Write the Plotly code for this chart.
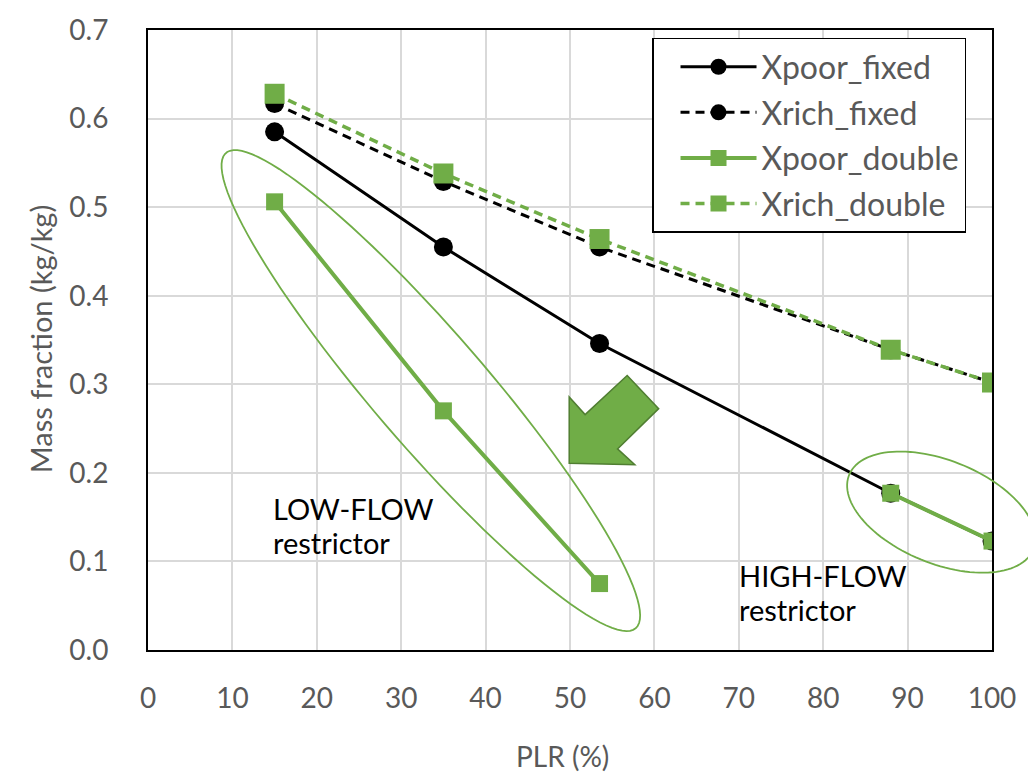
import plotly.graph_objects as go
import numpy as np

# ---- data ----
plr = [15, 35, 53.5, 88, 100]
xpoor_fixed = [0.585, 0.455, 0.346, 0.177, 0.123]
xrich_fixed = [0.617, 0.529, 0.455, 0.339, 0.302]
xpoor_double = [0.506, 0.270, 0.075, 0.177, 0.123]
xrich_double = [0.628, 0.538, 0.464, 0.339, 0.302]
series_names = ["Xpoor_fixed", "Xrich_fixed", "Xpoor_double", "Xrich_double"]
x_ticks = list(range(0, 101, 10))
y_ticks = [round(0.1 * i, 1) for i in range(8)]

W, H = 1028, 773
L, R, T, B = 148, 31, 25, 123
PW, PH = W - L - R, H - T - B

def px(x):
    return (x - L) / PW

def py(y):
    return (H - B - y) / PH

GREEN = "#70AD47"
GREY = "#595959"
FONT = "Lato"
FS = 28

fig = go.Figure()

# Xpoor_double has no segment between low-flow and high-flow groups
gap_x = plr[:3] + [None] + plr[3:]
gap_y = xpoor_double[:3] + [None] + xpoor_double[3:]

fig.add_trace(go.Scatter(x=plr, y=xpoor_fixed, name=series_names[0], mode="lines+markers",
                         line=dict(color="black", width=3),
                         marker=dict(symbol="circle", size=19, color="black"),
                         legendgroup="a"))
fig.add_trace(go.Scatter(x=plr, y=xrich_fixed, name=series_names[1], mode="lines+markers",
                         line=dict(color="black", width=3, dash="9px,6px"),
                         marker=dict(symbol="circle", size=19, color="black"),
                         legendgroup="b"))
fig.add_trace(go.Scatter(x=gap_x, y=gap_y, name=series_names[2], mode="lines+markers",
                         line=dict(color=GREEN, width=4),
                         marker=dict(symbol="square", size=17, color=GREEN),
                         connectgaps=False, legendgroup="c"))
fig.add_trace(go.Scatter(x=plr, y=xrich_double, name=series_names[3], mode="lines+markers",
                         line=dict(color=GREEN, width=3.5, dash="9px,6px"),
                         marker=dict(symbol="square", size=20, color=GREEN),
                         legendgroup="d"))

shapes = []

def ellipse_path(cx, cy, a, b, ang_deg, n=120):
    t = np.linspace(0, 2 * np.pi, n)
    th = np.deg2rad(ang_deg)
    xs = cx + a * np.cos(t) * np.cos(th) - b * np.sin(t) * np.sin(th)
    ys = cy + a * np.cos(t) * np.sin(th) + b * np.sin(t) * np.cos(th)
    pts = [f"{px(x):.5f},{py(y):.5f}" for x, y in zip(xs, ys)]
    return "M " + " L ".join(pts) + " Z"

shapes.append(dict(type="path", xref="paper", yref="paper",
                   path=ellipse_path(432.5, 388.5, 316, 57, 49.3),
                   line=dict(color=GREEN, width=1.8), layer="above"))
shapes.append(dict(type="path", xref="paper", yref="paper",
                   path=ellipse_path(946, 511, 100, 52, 22),
                   line=dict(color=GREEN, width=1.8), layer="above"))

arrow = [(630, 373.3), (661.7, 406.7), (620.3, 447.3), (637.7, 463.3),
         (571.7, 461.7), (571.7, 395), (587.7, 412.7)]
apath = "M " + " L ".join(f"{px(x):.5f},{py(y):.5f}" for x, y in arrow) + " Z"
shapes.append(dict(type="path", xref="paper", yref="paper", path=apath,
                   fillcolor=GREEN, line=dict(color="#507E32", width=1.5), layer="above"))

annotations = []
def txt(s, x, y, size=FS, color="black", xanchor="left", textangle=0):
    annotations.append(dict(text=s, xref="paper", yref="paper", x=px(x), y=py(y),
                            xanchor=xanchor, yanchor="middle", showarrow=False,
                            textangle=textangle,
                            font=dict(family=FONT, size=size, color=color)))

txt("LOW-FLOW", 272, 507, size=29)
txt("restrictor", 272, 542, size=29)
txt("HIGH-FLOW", 740, 575, size=29)
txt("restrictor", 740, 609, size=29)
txt("PLR (%)", 565, 757, color=GREY, xanchor="center")
txt("Mass fraction (kg/kg)", 40, 337, size=29, color=GREY, xanchor="center", textangle=-90)

fig.update_layout(
    width=W, height=H,
    margin=dict(l=L, r=R, t=T, b=B),
    paper_bgcolor="white", plot_bgcolor="white",
    font=dict(family=FONT, size=FS, color=GREY),
    shapes=shapes, annotations=annotations,
    legend=dict(x=px(655), y=py(33), xanchor="left", yanchor="top",
                bgcolor="white", bordercolor="black", borderwidth=1.5,
                font=dict(family=FONT, size=32, color=GREY),
                tracegroupgap=1, itemwidth=76, indentation=22),
    showlegend=True,
)
fig.update_xaxes(range=[0, 100], tickvals=x_ticks, showgrid=True, gridcolor="#D9D9D9",
                 gridwidth=1.5, showline=True, linecolor="black", linewidth=2, mirror=True,
                 zeroline=False, ticks="", ticklabelstandoff=22,
                 tickfont=dict(family=FONT, size=FS, color=GREY))
fig.update_yaxes(range=[0, 0.7], tickvals=y_ticks, tickformat=".1f", showgrid=True,
                 gridcolor="#D9D9D9", gridwidth=1.5, showline=True, linecolor="black",
                 linewidth=2, mirror=True, zeroline=False, ticks="", ticklabelstandoff=32,
                 tickfont=dict(family=FONT, size=FS, color=GREY))

fig.write_html("out.html")
